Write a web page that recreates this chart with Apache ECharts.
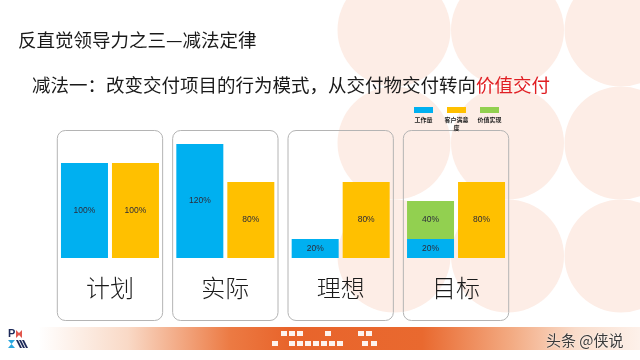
<!DOCTYPE html>
<html>
<head>
<meta charset="utf-8">
<style>html,body{margin:0;padding:0;background:#fff;}#c{width:640px;height:360px;}</style>
<script src="https://cdn.jsdelivr.net/npm/echarts@6/dist/echarts.min.js"></script>
</head>
<body>
<div id="c"></div>
<script>
// ---- data ----
const categories = ['计划', '实际', '理想', '目标'];
const seriesNames = ['工作量', '客户满意度', '价值实现'];
const workload = [100, 120, 20, 20];
const satisfaction = [100, 80, 80, 80];
const valueRealized = ['-', '-', '-', 40];
const mainTitle = '反直觉领导力之三—减法定律';
const subTitleA = '减法一：改变交付项目的行为模式，从交付物交付转向';
const subTitleB = '价值交付';

const colors = ['#00b0f0', '#ffc000', '#92d050'];
const FONT = '"Noto Sans CJK SC", "Noto Sans", sans-serif';

const chart = echarts.init(document.getElementById('c'), null, {renderer: 'canvas'});

const labelCfg = {
  show: true, position: 'inside', formatter: '{c}%',
  fontSize: 8.5, color: '#2b2b3a', fontFamily: 'Arial, "Liberation Sans", sans-serif'
};

// background circles
const bg = [];
[394, 507.5, 621].forEach(cx => {
  [30, 143, 256].forEach(cy => {
    bg.push({type: 'circle', z: -10, silent: true, shape: {cx: cx, cy: cy, r: 56.5}, style: {fill: '#fdede6'}});
  });
});

chart.setOption({
  backgroundColor: '#ffffff',
  animation: false,
  title: [
    {text: mainTitle, left: 18, top: 31, padding: 0,
     textStyle: {fontSize: 18.5, fontWeight: 'normal', color: '#1a1a1a', fontFamily: FONT}},
    {text: '{a|' + subTitleA + '}{b|' + subTitleB + '}', left: 32, top: 76, padding: 0,
     textStyle: {fontWeight: 'normal', fontSize: 18.5, rich: {
       a: {fontSize: 18.5, fontWeight: 'normal', color: '#1a1a1a', fontFamily: FONT},
       b: {fontSize: 18.5, fontWeight: 'normal', color: '#e01e23', fontFamily: FONT}
     }}}
  ],
  grid: {left: 52.3, right: 126.3, top: 125, bottom: 102},
  xAxis: {
    type: 'category', data: categories,
    axisLine: {show: false}, axisTick: {show: false},
    axisLabel: {fontSize: 24, fontWeight: 300, color: '#1a1a1a', margin: 18, fontFamily: FONT}
  },
  yAxis: {type: 'value', min: 0, max: 140, show: false, splitLine: {show: false}},
  series: [
    {name: seriesNames[0], type: 'bar', stack: 'left', data: workload, barWidth: 47, barGap: '8.5%',
     itemStyle: {color: colors[0]}, label: labelCfg},
    {name: seriesNames[1], type: 'bar', data: satisfaction, barWidth: 47, barGap: '8.5%',
     itemStyle: {color: colors[1]}, label: labelCfg},
    {name: seriesNames[2], type: 'bar', stack: 'left', data: valueRealized, barWidth: 47, barGap: '8.5%',
     itemStyle: {color: colors[2]}, label: labelCfg}
  ],
  graphic: bg
});

// panels around each category, located through the axis scale
const panels = [];
const p0 = chart.convertToPixel({xAxisIndex: 0}, categories[0]);
const p1 = chart.convertToPixel({xAxisIndex: 0}, categories[1]);
const step = p1 - p0;
categories.forEach(c => {
  const cx = chart.convertToPixel({xAxisIndex: 0}, c);
  panels.push({type: 'rect', silent: true, z: 1,
    shape: {x: cx - step / 2 + 5, y: 130.5, width: step - 10, height: 190, r: 8},
    style: {fill: 'rgba(0,0,0,0)', stroke: '#b4b4b4', lineWidth: 1}});
});

// legend (icon above, text below)
const legendEls = [];
const legendX = [414, 447, 480];
seriesNames.forEach((n, i) => {
  legendEls.push({type: 'rect', silent: true, z: 5, shape: {x: legendX[i], y: 107, width: 19, height: 6}, style: {fill: colors[i]}});
  const txt = n.length > 4 ? n.slice(0, 4) + '\n' + n.slice(4) : n;
  legendEls.push({type: 'text', silent: true, z: 5,
    style: {text: txt, x: legendX[i] + 9.5, y: 115, align: 'center', verticalAlign: 'top',
      fontSize: 6, lineHeight: 8.5, fontWeight: 'bold', fill: '#222', fontFamily: FONT}});
});

// footer band
const footer = [];
footer.push({type: 'rect', silent: true, z: 2, shape: {x: 0, y: 327, width: 640, height: 23},
  style: {fill: new echarts.graphic.LinearGradient(0, 0, 1, 0, [
    {offset: 0, color: '#ffffff'},
    {offset: 0.06, color: '#ffffff'},
    {offset: 0.2, color: '#f9d9c6'},
    {offset: 0.36, color: '#ec7a43'},
    {offset: 0.45, color: '#e8642b'},
    {offset: 0.66, color: '#e9692f'},
    {offset: 0.8, color: '#f3ab83'},
    {offset: 0.9, color: '#f9dccb'},
    {offset: 1, color: '#fdf1ea'}
  ])}});
// decorative white glyph blocks
const glyphs = [
  [281, 331], [289, 331], [297, 331], [325, 331], [358, 331], [366, 331],
  [272, 341], [289, 341], [297, 341], [305, 341], [313, 341], [321, 341], [329, 341], [337, 341], [362, 341], [371, 341]
];
glyphs.forEach(g => {
  footer.push({type: 'rect', silent: true, z: 3, shape: {x: g[0], y: g[1], width: 6, height: 5},
    style: {fill: 'rgba(255,255,255,0.92)'}});
});
// logo
footer.push({type: 'text', silent: true, z: 3, style: {text: 'P', x: 8, y: 328, fontSize: 11, fontWeight: 'bold', fill: '#1d2a5a', fontFamily: 'Arial, sans-serif'}});
footer.push({type: 'polygon', silent: true, z: 3, shape: {points: [[16, 330], [19, 333], [22, 330], [22, 338], [19, 335], [16, 338]]}, style: {fill: '#e2574c'}});
footer.push({type: 'polygon', silent: true, z: 3, shape: {points: [[8, 340], [15, 340], [11.5, 344], [15, 348], [8, 348], [11.5, 344]]}, style: {fill: '#2aa7df'}});
[16, 19, 22].forEach(x => {
  footer.push({type: 'polygon', silent: true, z: 3, shape: {points: [[x, 340], [x + 2, 340], [x + 6, 348], [x + 4, 348]]}, style: {fill: '#1d2a5a'}});
});
// watermark
footer.push({type: 'text', silent: true, z: 4, style: {text: '头条 @侠说', x: 546, y: 340, verticalAlign: 'middle',
  fontSize: 15, fill: '#3a3a3a', fontFamily: FONT, textShadowColor: '#ffffff', textShadowBlur: 2}});

chart.setOption({graphic: bg.concat(panels, legendEls, footer)});
</script>
</body>
</html>
